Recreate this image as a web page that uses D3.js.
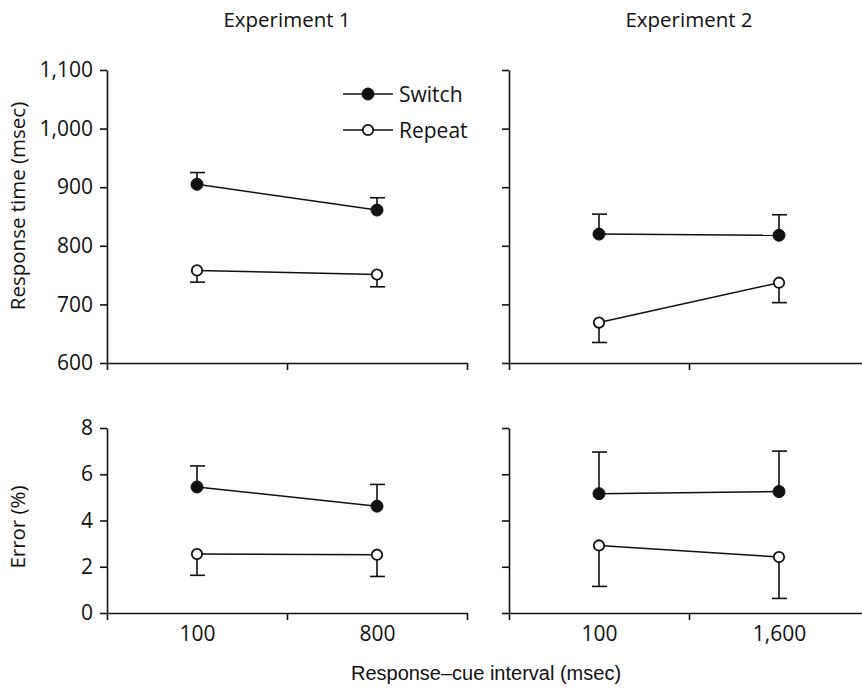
<!DOCTYPE html>
<html><head><meta charset="utf-8">
<script src="https://cdn.jsdelivr.net/npm/d3@7"></script>
<style>body{margin:0;background:#fff}svg{display:block}</style>
</head><body>
<script>
// ---- data ----
const categories1 = ["100", "800"];
const categories2 = ["100", "1,600"];
const experiments = ["Experiment 1", "Experiment 2"];
const seriesNames = ["Switch", "Repeat"];

const rtSwitch1 = [905, 861];
const rtSwitchSE1 = [20, 21];
const rtRepeat1 = [758, 751];
const rtRepeatSE1 = [20, 21];

const rtSwitch2 = [820, 818];
const rtSwitchSE2 = [34, 35];
const rtRepeat2 = [669, 737];
const rtRepeatSE2 = [34, 34];

const errSwitch1 = [5.45, 4.62];
const errSwitchSE1 = [0.91, 0.94];
const errRepeat1 = [2.55, 2.52];
const errRepeatSE1 = [0.92, 0.94];

const errSwitch2 = [5.16, 5.25];
const errSwitchSE2 = [1.80, 1.75];
const errRepeat2 = [2.92, 2.42];
const errRepeatSE2 = [1.77, 1.79];

const rtTicks = [600, 700, 800, 900, 1000, 1100];
const errTicks = [0, 2, 4, 6, 8];

// ---- layout ----
const W = 862, H = 688;
const svg = d3.select("body").append("svg").attr("width", W).attr("height", H);
const FONT = "'Open Sans', sans-serif";

const colX = [107, 509];
const panelW = 360;
const rowY = [{top: 70, bottom: 363}, {top: 428, bottom: 613}];

const yRT = rowY.map(r => d3.scaleLinear().domain([600, 1100]).range([r.bottom, r.top]));
const yErr = d3.scaleLinear().domain([0, 8]).range([rowY[1].bottom, rowY[1].top]);

const panels = [
  {row: 0, col: 0, cats: categories1, y: yRT[0], ticks: rtTicks,
   sw: rtSwitch1, swSE: rtSwitchSE1, rp: rtRepeat1, rpSE: rtRepeatSE1},
  {row: 0, col: 1, cats: categories2, y: yRT[0], ticks: rtTicks,
   sw: rtSwitch2, swSE: rtSwitchSE2, rp: rtRepeat2, rpSE: rtRepeatSE2},
  {row: 1, col: 0, cats: categories1, y: yErr, ticks: errTicks,
   sw: errSwitch1, swSE: errSwitchSE1, rp: errRepeat1, rpSE: errRepeatSE1},
  {row: 1, col: 1, cats: categories2, y: yErr, ticks: errTicks,
   sw: errSwitch2, swSE: errSwitchSE2, rp: errRepeat2, rpSE: errRepeatSE2}
];

function styleAxis(g) {
  g.selectAll("path, line").attr("stroke", "#111").attr("stroke-width", 1.6);
  g.selectAll("text").attr("fill", "#111").style("font-family", FONT);
}

panels.forEach(p => {
  const x0 = colX[p.col];
  const x = d3.scalePoint().domain(p.cats).range([x0, x0 + panelW]).padding(0.5);
  const xFrac = d3.scaleLinear().domain([0, 1]).range([x0, x0 + panelW]);
  const yB = rowY[p.row].bottom;

  // y axis
  const ya = svg.append("g").attr("transform", `translate(${x0},0)`)
    .call(d3.axisLeft(p.y).tickValues(p.ticks).tickSize(7).tickSizeOuter(0).tickPadding(7)
      .tickFormat(p.col === 0 ? d3.format(",") : () => ""));
  styleAxis(ya);
  ya.selectAll("text").style("font-size", "21px");

  // x axis line + ticks
  const xa = svg.append("g").attr("transform", `translate(0,${yB})`)
    .call(d3.axisBottom(xFrac).tickValues([0, 0.5, 1]).tickSize(7).tickSizeOuter(0).tickFormat(() => ""));
  styleAxis(xa);

  // x tick labels (bottom row only)
  if (p.row === 1) {
    const xl = svg.append("g").attr("transform", `translate(0,${yB})`)
      .call(d3.axisBottom(x).tickSize(0).tickPadding(13));
    xl.select(".domain").remove();
    styleAxis(xl);
    xl.selectAll("text").style("font-size", "21px");
  }

  const series = [
    {v: p.sw, se: p.swSE, dir: 1, fill: "#111"},
    {v: p.rp, se: p.rpSE, dir: -1, fill: "#fff"}
  ];
  const line = d3.line().x((d, i) => x(p.cats[i])).y(d => p.y(d));

  series.forEach(s => {
    const g = svg.append("g");
    // error bars
    s.v.forEach((v, i) => {
      const cx = x(p.cats[i]);
      const yEnd = p.y(v + s.dir * s.se[i]);
      g.append("line").attr("x1", cx).attr("x2", cx).attr("y1", p.y(v)).attr("y2", yEnd)
        .attr("stroke", "#111").attr("stroke-width", 1.6);
      g.append("line").attr("x1", cx - 7).attr("x2", cx + 8).attr("y1", yEnd).attr("y2", yEnd)
        .attr("stroke", "#111").attr("stroke-width", 1.6);
    });
    g.append("path").attr("d", line(s.v)).attr("fill", "none")
      .attr("stroke", "#111").attr("stroke-width", 1.5);
    g.selectAll("circle").data(s.v).join("circle")
      .attr("cx", (d, i) => x(p.cats[i])).attr("cy", d => p.y(d))
      .attr("r", s.fill === "#fff" ? 5.2 : 6)
      .attr("fill", s.fill).attr("stroke", "#111").attr("stroke-width", s.fill === "#fff" ? 1.8 : 1);
  });
});

// column titles
experiments.forEach((t, i) => {
  svg.append("text").attr("x", colX[i] + panelW / 2).attr("y", 27)
    .attr("text-anchor", "middle").style("font-family", FONT).style("font-size", "20.5px")
    .attr("fill", "#111").text(t);
});

// y-axis titles
[["Response time (msec)", 206], ["Error (%)", 527]].forEach(([t, cy]) => {
  svg.append("text").attr("transform", `translate(25,${cy}) rotate(-90)`)
    .attr("text-anchor", "middle").style("font-family", FONT).style("font-size", "20.5px")
    .attr("fill", "#111").text(t);
});

// x-axis title
svg.append("text").attr("x", 486).attr("y", 680).attr("text-anchor", "middle")
  .style("font-family", "'Liberation Sans', Arial, sans-serif").style("font-size", "20px")
  .attr("fill", "#111").text("Response\u2013cue interval (msec)");

// legend
const legend = svg.append("g");
seriesNames.forEach((name, i) => {
  const ly = 94 + i * 36;
  legend.append("line").attr("x1", 343).attr("x2", 393).attr("y1", ly).attr("y2", ly)
    .attr("stroke", "#111").attr("stroke-width", 1.5);
  legend.append("circle").attr("cx", 368).attr("cy", ly).attr("r", i === 0 ? 6 : 5.2)
    .attr("fill", i === 0 ? "#111" : "#fff").attr("stroke", "#111")
    .attr("stroke-width", i === 0 ? 1 : 1.8);
  legend.append("text").attr("x", 399).attr("y", ly + 7.5)
    .style("font-family", FONT).style("font-size", "21px").attr("fill", "#111").text(name);
});
</script>
</body></html>
